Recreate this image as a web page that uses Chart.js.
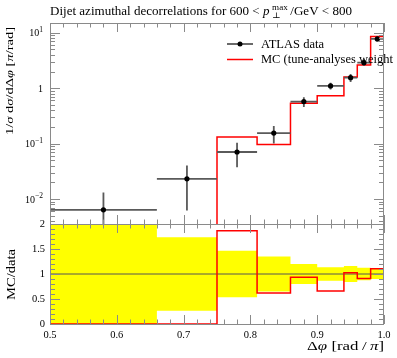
<!DOCTYPE html>
<html><head><meta charset="utf-8">
<script src="https://cdn.jsdelivr.net/npm/chart.js@4.4.1/dist/chart.umd.min.js"></script>
<style>
html,body{margin:0;padding:0;background:#fff;}
#wrap{position:relative;width:397px;height:358px;overflow:hidden;}
canvas{position:absolute;left:0;top:0;}
</style></head><body>
<div id="wrap"><canvas id="main" width="397" height="358"></canvas><canvas id="ratio" width="397" height="358"></canvas></div>
<script>
// ---- data ----
const binEdges = [0.5, 0.66, 0.75, 0.81, 0.86, 0.9, 0.94, 0.96, 0.98, 1.0];
const dataX    = [0.58, 0.705, 0.78, 0.835, 0.88, 0.92, 0.95, 0.97, 0.99];
const dataY    = [0.0064, 0.0232, 0.0706, 0.155, 0.574, 1.10, 1.55, 2.89, 7.75];
const dataErr  = [0.0068, 0.0170, 0.033, 0.054, 0.115, 0.15, 0.25, 0.36, 0.78];
const mcY      = [0, 0, 0.1316, 0.096, 0.537, 0.727, 1.59, 2.63, 8.55];
// ---- ticks ----
const xTickVals   = [0.5, 0.6, 0.7, 0.8, 0.9, 1.0];
const xTickLabels = ['0.5', '0.6', '0.7', '0.8', '0.9', '1.0'];
const yMainTickVals = [10, 1, 0.1, 0.01];
const yMainTickBase = ['10', '1', '10', '10'];
const yMainTickSup  = ['1', '', '\u22121', '\u22122'];
const yRatioTickVals   = [0, 0.5, 1, 1.5, 2];
const yRatioTickLabels = ['0', '0.5', '1', '1.5', '2'];

const SERIF = '"Liberation Serif", "DejaVu Serif", serif';
const FRAME = '#8a8a8a';

function stepPoints(edges, vals) {
  const pts = [];
  for (let i = 0; i < vals.length; i++) {
    pts.push({x: edges[i], y: vals[i]}, {x: edges[i + 1], y: vals[i]});
  }
  return pts;
}

// rich text: parts = [text, style, size, dy]
function richWidth(ctx, parts) {
  let w = 0;
  for (const p of parts) {
    ctx.font = (p[1] || '') + p[2] + 'px ' + SERIF;
    if (!p[4]) w += ctx.measureText(p[0]).width;
  }
  return w;
}
function drawRich(ctx, parts, x, y, target, align) {
  const W = richWidth(ctx, parts);
  const sx = target ? target / W : 1;
  ctx.save();
  const x0 = align === 'right' ? x - W * sx : (align === 'center' ? x - W * sx / 2 : x);
  ctx.translate(x0, y); ctx.scale(sx, 1);
  ctx.textAlign = 'left';
  let cx = 0;
  for (const p of parts) {
    ctx.font = (p[1] || '') + p[2] + 'px ' + SERIF;
    ctx.fillText(p[0], cx, p[3] || 0);
    if (!p[4]) cx += ctx.measureText(p[0]).width;
  }
  ctx.restore();
}

function drawXTicks(ctx, chart) {
  const xs = chart.scales.x, a = chart.chartArea;
  ctx.strokeStyle = FRAME; ctx.lineWidth = 1;
  ctx.beginPath();
  for (let k = 0; k <= 25; k++) {
    const v = 0.5 + k * 0.02;
    const major = (k % 5 === 0);
    const L = major ? 9 : 4.5;
    const px = Math.round(xs.getPixelForValue(v)) + 0.5;
    ctx.moveTo(px, a.top); ctx.lineTo(px, a.top + L);
    ctx.moveTo(px, a.bottom); ctx.lineTo(px, a.bottom - L);
  }
  ctx.stroke();
}

function drawFrame(ctx, a) {
  ctx.strokeStyle = FRAME; ctx.lineWidth = 1;
  ctx.strokeRect(Math.round(a.left) + 0.5, Math.round(a.top) + 0.5,
                 Math.round(a.right - a.left) - 1, Math.round(a.bottom - a.top));
}

const mainPlugin = {
  id: 'mainDeco',
  beforeDatasetDraw(chart, args) {
    if (args.index !== 1) return;
    const ctx = chart.ctx, xs = chart.scales.x, ys = chart.scales.y, a = chart.chartArea;
    ctx.save();
    ctx.beginPath(); ctx.rect(a.left, a.top, a.right - a.left, a.bottom - a.top); ctx.clip();
    ctx.strokeStyle = '#5a5a5a'; ctx.lineWidth = 1.8;
    ctx.beginPath();
    for (let i = 0; i < dataX.length; i++) {
      const px = xs.getPixelForValue(dataX[i]);
      const py = ys.getPixelForValue(dataY[i]);
      const lo = dataY[i] - dataErr[i];
      const pyLo = lo > 0 ? ys.getPixelForValue(lo) : a.bottom + 10;
      const pyHi = ys.getPixelForValue(dataY[i] + dataErr[i]);
      ctx.moveTo(xs.getPixelForValue(binEdges[i]), py);
      ctx.lineTo(xs.getPixelForValue(binEdges[i + 1]), py);
      ctx.moveTo(px, pyHi); ctx.lineTo(px, Math.min(pyLo, a.bottom + 10));
    }
    ctx.stroke();
    ctx.restore();
  },
  afterDraw(chart) {
    const ctx = chart.ctx, ys = chart.scales.y, a = chart.chartArea;
    ctx.save();
    drawFrame(ctx, a);
    drawXTicks(ctx, chart);
    // log y ticks
    ctx.beginPath();
    for (let e = -3; e <= 1; e++) {
      for (let m = 1; m <= 9; m++) {
        const v = m * Math.pow(10, e);
        if (v < ys.min || v > ys.max) continue;
        const py = Math.round(ys.getPixelForValue(v)) + 0.5;
        const L = (m === 1) ? 10 : 5;
        ctx.moveTo(a.left, py); ctx.lineTo(a.left + L, py);
        ctx.moveTo(a.right, py); ctx.lineTo(a.right - L, py);
      }
    }
    ctx.stroke();
    // y tick labels
    ctx.fillStyle = '#000'; ctx.textBaseline = 'middle';
    for (let i = 0; i < yMainTickVals.length; i++) {
      const py = ys.getPixelForValue(yMainTickVals[i]);
      const parts = [[yMainTickBase[i], '', 10, 1]];
      if (yMainTickSup[i]) parts.push([yMainTickSup[i], '', 7.5, -3]);
      drawRich(ctx, parts, 43, py, 0, 'right');
    }
    // title
    ctx.textBaseline = 'alphabetic';
    drawRich(ctx, [
      ['Dijet azimuthal decorrelations for 600 < ', '', 11.5, 0],
      ['p', 'italic ', 11.5, 0],
      ['\u2009', '', 11.5, 0],
      ['\u22a5', '', 8, 3, true],
      ['max', '', 8, -5],
      ['\u2009/GeV < 800', '', 11.5, 0]
    ], 50, 15, 302, 'left');
    // y axis title
    ctx.save();
    ctx.translate(10, 27); ctx.rotate(-Math.PI / 2);
    ctx.textBaseline = 'middle';
    drawRich(ctx, [
      ['1/', '', 11, 0], ['\u03c3', 'italic ', 11, 0], [' d', '', 11, 0], ['\u03c3', 'italic ', 11, 0],
      ['/d\u0394', '', 11, 0], ['\u03c6', 'italic ', 11, 0], [' [', '', 11, 0], ['\u03c0', 'italic ', 11, 0],
      ['/rad]', '', 11, 0]
    ], 0, 0, 108, 'right');
    ctx.restore();
    // legend
    ctx.strokeStyle = '#5a5a5a'; ctx.lineWidth = 1.8;
    ctx.beginPath(); ctx.moveTo(227, 44); ctx.lineTo(253, 44); ctx.stroke();
    ctx.fillStyle = '#000';
    ctx.beginPath(); ctx.arc(240, 44, 2.5, 0, Math.PI * 2); ctx.fill();
    ctx.strokeStyle = '#ff0000'; ctx.lineWidth = 1.5;
    ctx.beginPath(); ctx.moveTo(227, 59.5); ctx.lineTo(253, 59.5); ctx.stroke();
    ctx.textBaseline = 'middle';
    drawRich(ctx, [['ATLAS data', '', 12.5, 0]], 261, 44.5, 63, 'left');
    drawRich(ctx, [['MC (tune-analyses weight', '', 12.5, 0]], 261, 60, 132, 'left');
    ctx.restore();
  }
};

const ratioPlugin = {
  id: 'ratioDeco',
  afterDraw(chart) {
    const ctx = chart.ctx, xs = chart.scales.x, ys = chart.scales.y, a = chart.chartArea;
    ctx.save();
    drawFrame(ctx, a);
    drawXTicks(ctx, chart);
    ctx.beginPath();
    for (let k = 0; k <= 20; k++) {
      const v = k * 0.1;
      const major = (k % 5 === 0);
      const L = major ? 10 : 5;
      const py = Math.round(ys.getPixelForValue(v)) + 0.5;
      ctx.moveTo(a.left, py); ctx.lineTo(a.left + L, py);
      ctx.moveTo(a.right, py); ctx.lineTo(a.right - L, py);
    }
    ctx.stroke();
    ctx.fillStyle = '#000';
    ctx.font = '10px ' + SERIF;
    ctx.textAlign = 'right'; ctx.textBaseline = 'middle';
    for (let i = 0; i < yRatioTickVals.length; i++) {
      drawRich(ctx, [[yRatioTickLabels[i], '', 10.5, 0]], 45, ys.getPixelForValue(yRatioTickVals[i]) + 0.5, 0, 'right');
    }
    for (let i = 0; i < xTickVals.length; i++) {
      drawRich(ctx, [[xTickLabels[i], '', 10.5, 0]], xs.getPixelForValue(xTickVals[i]), 335.5, 0, 'center');
    }
    // ratio y title
    ctx.save();
    ctx.translate(12, 274.5); ctx.rotate(-Math.PI / 2);
    ctx.textBaseline = 'middle';
    drawRich(ctx, [['MC/data', '', 11.5, 0]], 0, 0, 51, 'center');
    ctx.restore();
    // x axis title
    ctx.textBaseline = 'middle';
    drawRich(ctx, [['\u0394', '', 12, 0], ['\u03c6', 'italic ', 12, 0], [' [rad\u2009/\u2009', '', 12, 0],
                   ['\u03c0', 'italic ', 12, 0], [']', '', 12, 0]], 384, 347, 77, 'right');
    ctx.restore();
  }
};

const commonOpts = (pad, yScale) => ({
  responsive: false, animation: false, devicePixelRatio: 1,
  layout: {padding: pad},
  plugins: {legend: {display: false}, tooltip: {enabled: false}, title: {display: false}},
  scales: {
    x: {type: 'linear', min: 0.5, max: 1.0, display: false},
    y: Object.assign({display: false}, yScale)
  },
  events: []
});

new Chart(document.getElementById('main'), {
  type: 'scatter',
  data: {datasets: [
    {data: stepPoints(binEdges, mcY.map(v => v > 0 ? v : 1e-6)), showLine: true,
     borderColor: '#ff0000', borderWidth: 1.5, pointRadius: 0, fill: false, order: 2},
    {data: dataX.map((x, i) => ({x: x, y: dataY[i]})), pointRadius: 2.6,
     backgroundColor: '#000', borderWidth: 0, order: 0}
  ]},
  options: commonOpts({left: 50, right: 13, top: 23, bottom: 134},
                      {type: 'logarithmic', min: 0.00355, max: 15}),
  plugins: [mainPlugin]
});

const ratioMC = mcY.map((v, i) => v / dataY[i]);
const bandLo = dataY.map((v, i) => 1 - dataErr[i] / v);
const bandHi = dataY.map((v, i) => 1 + dataErr[i] / v);

new Chart(document.getElementById('ratio'), {
  type: 'scatter',
  data: {datasets: [
    {data: stepPoints(binEdges, bandLo), showLine: true, borderWidth: 0, borderColor: 'rgba(0,0,0,0)',
     pointRadius: 0, fill: false, order: 5},
    {data: stepPoints(binEdges, bandHi), showLine: true, borderWidth: 0, borderColor: 'rgba(0,0,0,0)',
     pointRadius: 0, fill: '-1', backgroundColor: '#ffff00', order: 4},
    {data: [{x: 0.5, y: 1}, {x: 1.0, y: 1}], showLine: true, borderColor: '#555', borderWidth: 1,
     pointRadius: 0, fill: false, order: 1},
    {data: stepPoints(binEdges, ratioMC), showLine: true, borderColor: '#ff0000', borderWidth: 1.5,
     pointRadius: 0, fill: false, order: 0}
  ]},
  options: commonOpts({left: 50, right: 13, top: 224, bottom: 34},
                      {type: 'linear', min: 0, max: 2}),
  plugins: [ratioPlugin]
});
</script>
</body></html>
